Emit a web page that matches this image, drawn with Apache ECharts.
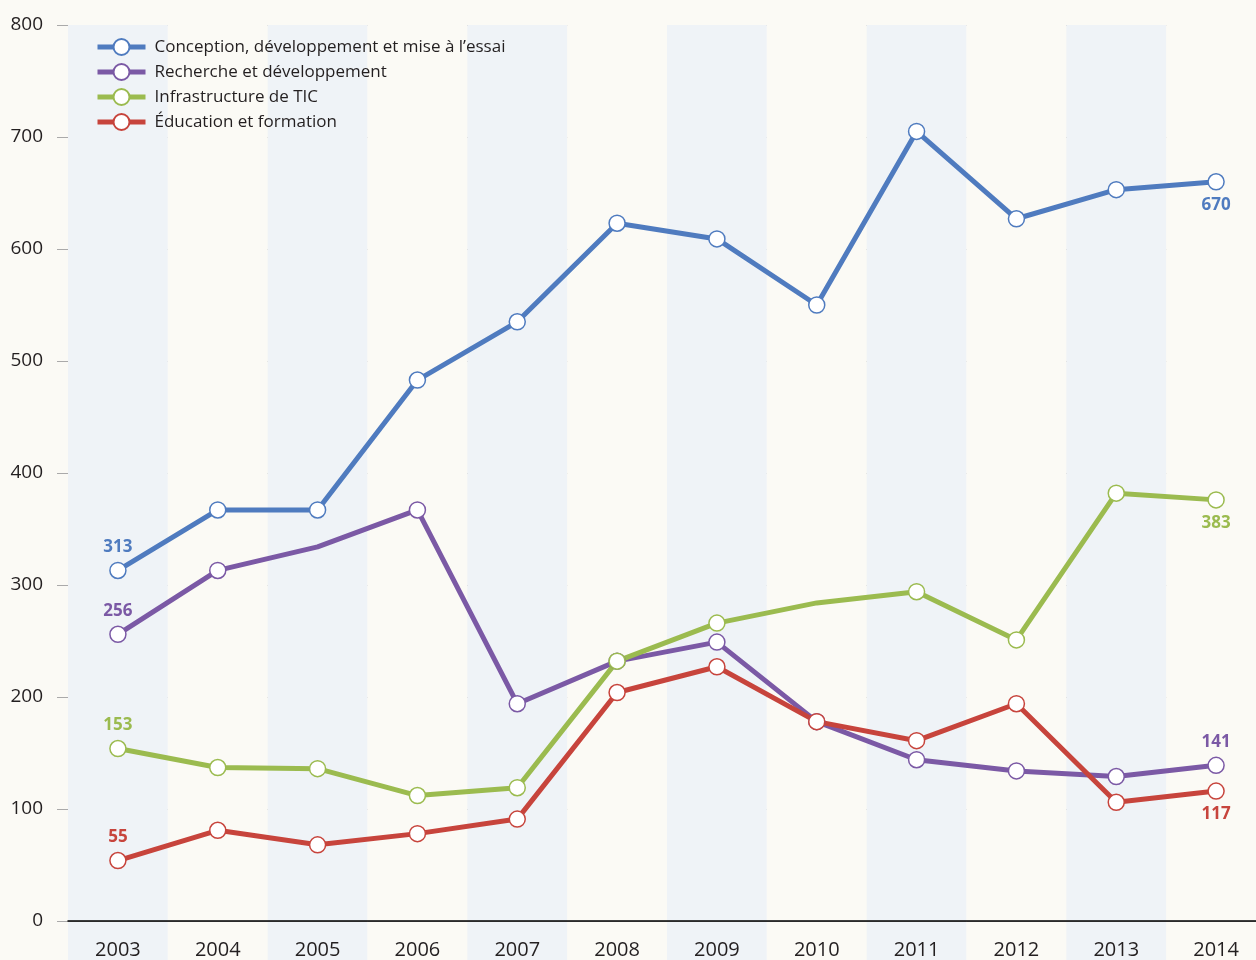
<!DOCTYPE html>
<html>
<head>
<meta charset="utf-8">
<script src="https://cdn.jsdelivr.net/npm/echarts@6/dist/echarts.min.js"></script>
<style>
html,body{margin:0;padding:0;background:#fbfaf5;overflow:hidden;width:1256px;height:960px;}
#c{width:1266px;height:960px;}
</style>
</head>
<body>
<div id="c"></div>
<script>
const years = ['2003','2004','2005','2006','2007','2008','2009','2010','2011','2012','2013','2014'];
const yTicks = [0,100,200,300,400,500,600,700,800];
const conception = [313,367,367,483,535,623,609,550,705,627,653,660];
const recherche  = [256,313,334,367,194,232,249,178,144,134,129,139];
const infra      = [154,137,136,112,119,232,266,284,294,251,382,376];
const education  = [54,81,68,78,91,204,227,178,161,194,106,116];
// points drawn without a marker (index per series)
const noMarkerRecherche = [2];
const noMarkerInfra = [7];
// end labels: [first, last]
const labConception = ['313','670'];
const labRecherche = ['256','141'];
const labInfra = ['153','383'];
const labEducation = ['55','117'];
const names = ['Conception, développement et mise à l’essai','Recherche et développement','Infrastructure de TIC','Éducation et formation'];

const FONT = '"Open Sans", "Noto Sans", sans-serif';
const BG = '#fbfaf5';

function build(vals, color, labs, posFirst, posLast, noMarker){
  return vals.map((v,i)=>{
    const item = {value:v};
    if (noMarker && noMarker.indexOf(i)>=0) item.symbol='none';
    if (i===0 || i===vals.length-1){
      const pos = i===0 ? posFirst : posLast;
      item.label = {show:true, position:pos, distance:6, formatter:i===0?labs[0]:labs[1],
        color:color, fontWeight:'bold', fontSize:17, fontFamily:FONT,
        backgroundColor: (pos==='bottom'? BG : 'transparent'), padding:[0,3]};
    }
    return item;
  });
}
function ser(name, vals, color, labs, pf, pl, nm){
  return {
    name:name, type:'line', xAxisIndex:0, yAxisIndex:0,
    data: build(vals,color,labs,pf,pl,nm),
    symbol:'circle', symbolSize:16, showAllSymbol:true,
    lineStyle:{color:color, width:5},
    itemStyle:{color:'#ffffff', borderColor:color, borderWidth:1.5},
    label:{show:false},
    emphasis:{disabled:true},
    animation:false
  };
}
const C_BLUE='#4f7bbf', C_PURPLE='#7b59a5', C_GREEN='#9bbb4f', C_RED='#c7443c';

const chart = echarts.init(document.getElementById('c'), null, {renderer:'canvas'});
chart.setOption({
  backgroundColor: BG,
  animation:false,
  textStyle:{fontFamily:FONT},
  legend:{
    data:names, orient:'vertical', left:95, top:38, padding:0,
    itemWidth:48, itemHeight:20, itemGap:7,
    lineStyle:{width:5},
    textStyle:{fontSize:17, color:'#231f20', fontFamily:FONT, padding:[0,0,0,4]},
    selectedMode:false
  },
  grid:[
    {left:68, top:25, width:1198, height:897, containLabel:false},
    {left:68, top:922, width:1198, height:38, containLabel:false}
  ],
  xAxis:[
    {type:'category', gridIndex:0, data:years, boundaryGap:true, z:3,
     axisLine:{show:true, onZero:false, lineStyle:{color:'#000', width:1.5}},
     axisTick:{show:false},
     axisLabel:{fontSize:20, color:'#231f20', margin:19, fontFamily:FONT, interval:0},
     splitLine:{show:false},
     splitArea:{show:true, interval:0, areaStyle:{color:['#eff3f7', BG]}}},
    {type:'category', gridIndex:1, data:years, boundaryGap:true, z:-1,
     axisLine:{show:false}, axisTick:{show:false}, axisLabel:{show:false},
     splitArea:{show:true, interval:0, areaStyle:{color:['#eff3f7', BG]}}}
  ],
  yAxis:[
    {type:'value', gridIndex:0, min:0, max:800, interval:100,
     axisLine:{show:false},
     axisTick:{show:true, length:11, lineStyle:{color:'#aaaaaa', width:1}},
     axisLabel:{fontSize:19, color:'#231f20', margin:25, fontFamily:FONT},
     splitLine:{show:true, lineStyle:{color:'#aaaaaa', width:1}}},
    {type:'value', gridIndex:1, show:false}
  ],
  series:[
    ser(names[1], recherche, C_PURPLE, labRecherche, 'top', 'top', noMarkerRecherche),
    ser(names[2], infra, C_GREEN, labInfra, 'top', 'bottom', noMarkerInfra),
    ser(names[3], education, C_RED, labEducation, 'top', 'bottom', null),
    ser(names[0], conception, C_BLUE, labConception, 'top', 'bottom', null)
  ]
});
</script>
</body>
</html>
